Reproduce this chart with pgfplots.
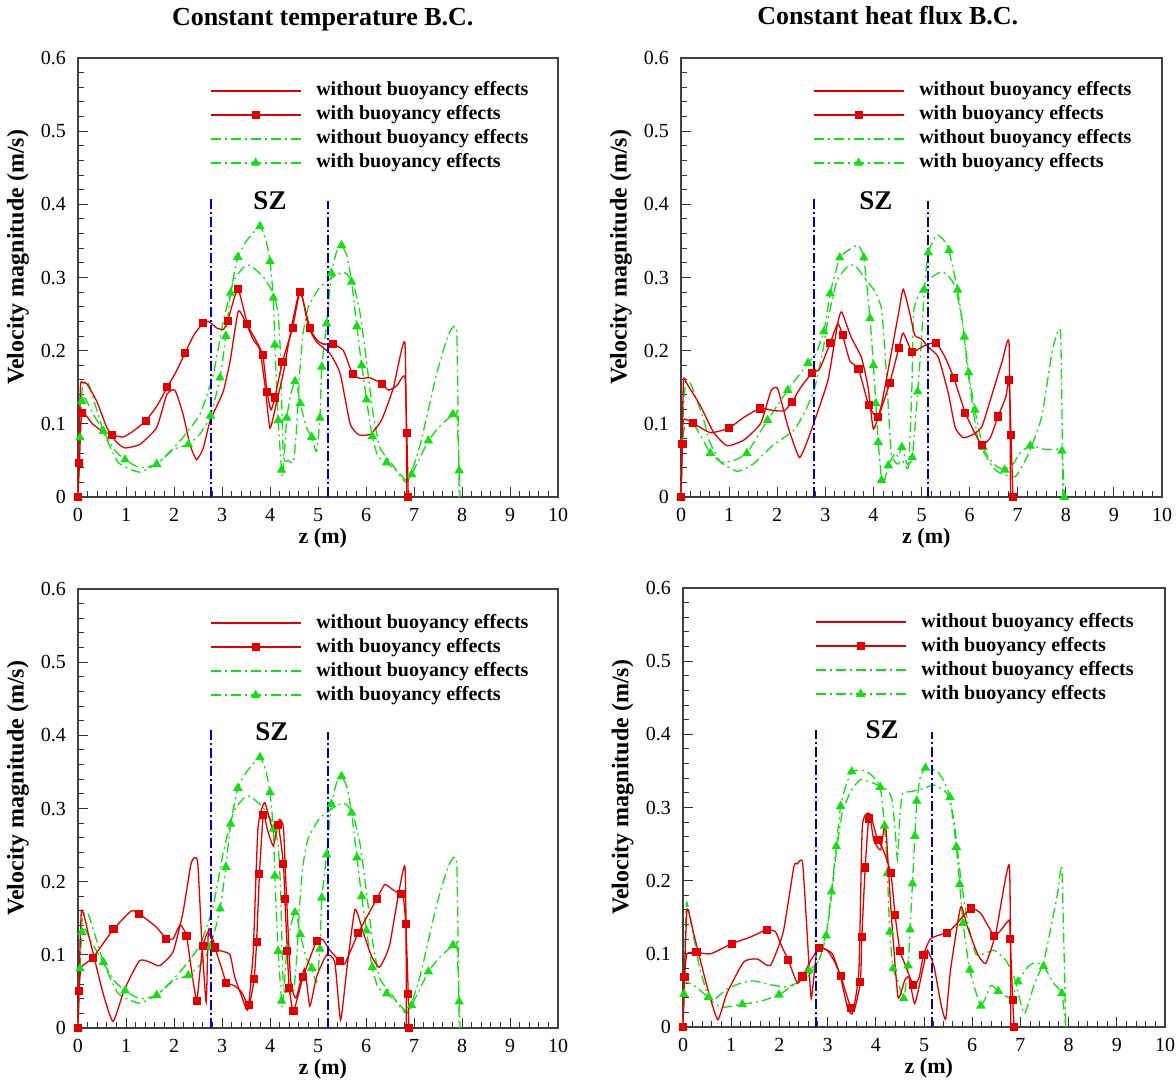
\documentclass[border=0pt]{standalone}
\usepackage{fontspec}
\setmainfont{Liberation Serif}
\usepackage{pgfplots}
\usepackage{pgfplotstable}
\pgfplotsset{compat=1.18}

\definecolor{myred}{RGB}{225,0,0}
\definecolor{mygreen}{RGB}{20,222,20}
\definecolor{myblue}{RGB}{0,0,185}

% ---------------- Panel A (constant temperature, top) ----------------
\pgfplotstableread[row sep=\\]{x y\\
0 0\\ 0.05 0.15\\ 0.1 0.156\\ 0.18 0.155\\ 0.39 0.131\\ 0.6 0.095\\ 0.8 0.075\\ 0.98 0.067\\ 1.29 0.072\\ 1.64 0.095\\ 1.85 0.140\\ 2.02 0.146\\ 2.19 0.113\\ 2.33 0.072\\ 2.47 0.051\\ 2.61 0.067\\ 2.75 0.104\\ 2.89 0.124\\ 3.03 0.145\\ 3.17 0.186\\ 3.34 0.254\\ 3.51 0.236\\ 3.65 0.215\\ 3.79 0.201\\ 3.90 0.15\\ 4.00 0.094\\ 4.14 0.13\\ 4.28 0.17\\ 4.45 0.233\\ 4.63 0.283\\ 4.80 0.233\\ 4.97 0.212\\ 5.25 0.196\\ 5.46 0.169\\ 5.67 0.100\\ 5.85 0.085\\ 6.10 0.086\\ 6.33 0.106\\ 6.57 0.149\\ 6.81 0.211\\ 6.85 0\\
}\ArZ
\pgfplotstableread[row sep=\\]{x y\\
0 0\\ 0.03 0.047\\ 0.08 0.115\\ 0.3 0.1\\ 0.5 0.09\\ 0.70 0.085\\ 0.94 0.082\\ 1.15 0.09\\ 1.41 0.104\\ 1.65 0.125\\ 1.86 0.150\\ 2.05 0.172\\ 2.23 0.197\\ 2.42 0.222\\ 2.61 0.238\\ 2.72 0.240\\ 2.89 0.231\\ 3.03 0.229\\ 3.12 0.241\\ 3.33 0.284\\ 3.53 0.236\\ 3.70 0.215\\ 3.85 0.194\\ 3.94 0.143\\ 4.02 0.119\\ 4.10 0.136\\ 4.26 0.185\\ 4.47 0.231\\ 4.63 0.280\\ 4.83 0.231\\ 4.97 0.215\\ 5.11 0.209\\ 5.32 0.209\\ 5.53 0.200\\ 5.72 0.168\\ 5.88 0.162\\ 6.08 0.163\\ 6.33 0.155\\ 6.47 0.146\\ 6.64 0.152\\ 6.81 0.165\\ 6.85 0.088\\ 6.88 0\\
}\ArO
\pgfplotstableread[row sep=\\]{x y\\
0 0\\ 0.03 0.047\\ 0.08 0.115\\ 0.70 0.085\\ 1.41 0.104\\ 1.86 0.150\\ 2.23 0.197\\ 2.61 0.238\\ 3.12 0.241\\ 3.33 0.284\\ 3.53 0.236\\ 3.85 0.194\\ 3.94 0.143\\ 4.10 0.136\\ 4.26 0.185\\ 4.47 0.231\\ 4.63 0.280\\ 4.83 0.231\\ 5.32 0.209\\ 5.72 0.168\\ 6.33 0.155\\ 6.85 0.088\\ 6.88 0\\
}\ArM
\pgfplotstableread[row sep=\\]{x y\\
0 0\\ 0.05 0.12\\ 0.11 0.155\\ 0.22 0.155\\ 0.53 0.090\\ 0.84 0.047\\ 1.29 0.034\\ 1.71 0.049\\ 2.13 0.077\\ 2.54 0.113\\ 2.82 0.168\\ 3.03 0.241\\ 3.24 0.295\\ 3.45 0.314\\ 3.58 0.317\\ 3.86 0.301\\ 4.07 0.278\\ 4.17 0.25\\ 4.22 0.19\\ 4.28 0.055\\ 4.38 0.05\\ 4.49 0.048\\ 4.56 0.1\\ 4.62 0.17\\ 4.69 0.224\\ 4.80 0.260\\ 5.04 0.287\\ 5.32 0.301\\ 5.50 0.307\\ 5.60 0.305\\ 5.74 0.290\\ 5.88 0.250\\ 6.02 0.18\\ 6.15 0.113\\ 6.29 0.067\\ 6.50 0.049\\ 6.85 0.020\\ 7.13 0.072\\ 7.47 0.168\\ 7.72 0.222\\ 7.89 0.225\\ 7.94 0\\
}\AgZ
\pgfplotstableread[row sep=\\]{x y\\
0 0\\ 0.04 0.081\\ 0.08 0.131\\ 0.15 0.135\\ 0.3 0.115\\ 0.53 0.090\\ 0.75 0.065\\ 0.98 0.051\\ 1.29 0.040\\ 1.64 0.045\\ 1.99 0.065\\ 2.30 0.072\\ 2.54 0.086\\ 2.76 0.111\\ 2.96 0.163\\ 3.08 0.220\\ 3.18 0.279\\ 3.33 0.328\\ 3.51 0.350\\ 3.79 0.370\\ 3.92 0.35\\ 4.00 0.322\\ 4.07 0.272\\ 4.10 0.208\\ 4.17 0.105\\ 4.24 0.037\\ 4.26 0.028\\ 4.30 0.06\\ 4.35 0.108\\ 4.43 0.140\\ 4.52 0.158\\ 4.57 0.15\\ 4.63 0.128\\ 4.76 0.095\\ 4.87 0.082\\ 4.97 0.062\\ 5.04 0.108\\ 5.08 0.178\\ 5.18 0.237\\ 5.28 0.306\\ 5.40 0.338\\ 5.49 0.344\\ 5.60 0.33\\ 5.70 0.294\\ 5.81 0.233\\ 5.91 0.180\\ 6.01 0.133\\ 6.13 0.083\\ 6.25 0.055\\ 6.43 0.047\\ 6.64 0.036\\ 6.85 0.022\\ 6.95 0.031\\ 7.09 0.049\\ 7.30 0.077\\ 7.54 0.097\\ 7.81 0.113\\ 7.89 0.118\\ 7.94 0.036\\ 7.96 0\\
}\AgO
\pgfplotstableread[row sep=\\]{x y\\
0 0\\ 0.04 0.081\\ 0.08 0.131\\ 0.53 0.090\\ 0.98 0.051\\ 1.64 0.045\\ 2.30 0.072\\ 2.76 0.111\\ 2.96 0.163\\ 3.08 0.220\\ 3.18 0.279\\ 3.33 0.328\\ 3.79 0.370\\ 4.00 0.322\\ 4.07 0.272\\ 4.10 0.208\\ 4.17 0.105\\ 4.24 0.037\\ 4.35 0.108\\ 4.52 0.158\\ 4.63 0.128\\ 4.87 0.082\\ 5.04 0.108\\ 5.08 0.178\\ 5.18 0.237\\ 5.28 0.306\\ 5.49 0.344\\ 5.70 0.294\\ 5.81 0.233\\ 5.91 0.180\\ 6.01 0.133\\ 6.13 0.083\\ 6.43 0.047\\ 6.95 0.031\\ 7.30 0.077\\ 7.81 0.113\\ 7.94 0.036\\
}\AgM

% ---------------- Panel B (constant heat flux, top) ----------------
\pgfplotstableread[row sep=\\]{x y\\
0 0\\ 0.05 0.157\\ 0.12 0.155\\ 0.40 0.125\\ 0.68 0.088\\ 0.96 0.070\\ 1.31 0.078\\ 1.66 0.101\\ 1.87 0.145\\ 2.01 0.148\\ 2.22 0.097\\ 2.46 0.054\\ 2.64 0.079\\ 2.85 0.118\\ 3.06 0.161\\ 3.26 0.238\\ 3.34 0.253\\ 3.54 0.218\\ 3.75 0.191\\ 3.89 0.150\\ 4.00 0.093\\ 4.17 0.127\\ 4.38 0.200\\ 4.52 0.250\\ 4.62 0.284\\ 4.76 0.250\\ 4.86 0.221\\ 5.00 0.216\\ 5.14 0.205\\ 5.35 0.191\\ 5.56 0.141\\ 5.70 0.095\\ 5.87 0.081\\ 6.09 0.086\\ 6.26 0.097\\ 6.47 0.141\\ 6.68 0.186\\ 6.82 0.211\\ 6.85 0\\
}\BrZ
\pgfplotstableread[row sep=\\]{x y\\
0 0\\ 0.03 0.072\\ 0.05 0.106\\ 0.25 0.101\\ 0.61 0.088\\ 0.99 0.094\\ 1.31 0.109\\ 1.64 0.121\\ 1.94 0.118\\ 2.15 0.118\\ 2.31 0.130\\ 2.49 0.150\\ 2.72 0.169\\ 2.88 0.175\\ 3.10 0.210\\ 3.26 0.237\\ 3.36 0.221\\ 3.51 0.186\\ 3.69 0.175\\ 3.90 0.126\\ 4.09 0.109\\ 4.34 0.156\\ 4.53 0.204\\ 4.62 0.224\\ 4.80 0.198\\ 4.93 0.202\\ 5.07 0.207\\ 5.30 0.211\\ 5.49 0.191\\ 5.67 0.163\\ 5.91 0.115\\ 6.12 0.086\\ 6.26 0.071\\ 6.43 0.081\\ 6.59 0.110\\ 6.75 0.136\\ 6.82 0.160\\ 6.86 0.085\\ 6.90 0\\
}\BrO
\pgfplotstableread[row sep=\\]{x y\\
0 0\\ 0.03 0.072\\ 0.25 0.101\\ 0.99 0.094\\ 1.64 0.121\\ 2.31 0.130\\ 2.72 0.169\\ 3.10 0.210\\ 3.36 0.221\\ 3.69 0.175\\ 3.90 0.126\\ 4.09 0.109\\ 4.34 0.156\\ 4.53 0.204\\ 4.80 0.198\\ 5.30 0.211\\ 5.67 0.163\\ 5.91 0.115\\ 6.26 0.071\\ 6.59 0.110\\ 6.82 0.160\\ 6.86 0.085\\ 6.90 0\\
}\BrM
\pgfplotstableread[row sep=\\]{x y\\
0 0\\ 0.05 0.12\\ 0.1 0.157\\ 0.2 0.155\\ 0.45 0.11\\ 0.6 0.075\\ 0.82 0.048\\ 1.17 0.035\\ 1.5 0.045\\ 1.9 0.07\\ 2.36 0.092\\ 2.6 0.12\\ 2.77 0.147\\ 2.95 0.2\\ 3.05 0.241\\ 3.24 0.295\\ 3.45 0.314\\ 3.61 0.317\\ 3.82 0.299\\ 4.03 0.281\\ 4.17 0.256\\ 4.27 0.169\\ 4.37 0.060\\ 4.50 0.045\\ 4.60 0.05\\ 4.73 0.041\\ 4.80 0.150\\ 4.84 0.255\\ 5.01 0.285\\ 5.20 0.300\\ 5.42 0.308\\ 5.56 0.302\\ 5.70 0.287\\ 5.85 0.24\\ 5.97 0.169\\ 6.18 0.078\\ 6.53 0.037\\ 6.95 0.028\\ 7.23 0.060\\ 7.50 0.110\\ 7.72 0.20\\ 7.89 0.225\\ 7.94 0\\
}\BgZ
\pgfplotstableread[row sep=\\]{x y\\
0 0\\ 0.02 0.073\\ 0.08 0.095\\ 0.25 0.100\\ 0.4 0.085\\ 0.61 0.060\\ 0.85 0.047\\ 1.1 0.05\\ 1.37 0.060\\ 1.80 0.105\\ 2.22 0.146\\ 2.64 0.183\\ 2.80 0.195\\ 2.97 0.226\\ 3.10 0.278\\ 3.30 0.327\\ 3.50 0.338\\ 3.68 0.344\\ 3.80 0.327\\ 3.93 0.244\\ 4.00 0.180\\ 4.05 0.128\\ 4.10 0.075\\ 4.17 0.023\\ 4.22 0.02\\ 4.31 0.043\\ 4.45 0.06\\ 4.52 0.055\\ 4.59 0.068\\ 4.70 0.045\\ 4.81 0.054\\ 4.92 0.144\\ 4.99 0.205\\ 5.06 0.283\\ 5.14 0.334\\ 5.31 0.358\\ 5.45 0.352\\ 5.57 0.337\\ 5.75 0.283\\ 5.89 0.219\\ 5.98 0.170\\ 6.11 0.119\\ 6.28 0.068\\ 6.50 0.045\\ 6.73 0.037\\ 6.90 0.045\\ 7.05 0.06\\ 7.26 0.070\\ 7.58 0.065\\ 7.80 0.065\\ 7.92 0.063\\ 7.97 0\\
}\BgO
\pgfplotstableread[row sep=\\]{x y\\
0 0\\ 0.02 0.073\\ 0.25 0.100\\ 0.61 0.060\\ 1.37 0.060\\ 1.80 0.105\\ 2.22 0.146\\ 2.64 0.183\\ 2.97 0.226\\ 3.10 0.278\\ 3.30 0.327\\ 3.80 0.327\\ 3.93 0.244\\ 4.00 0.180\\ 4.05 0.128\\ 4.10 0.075\\ 4.17 0.023\\ 4.31 0.043\\ 4.59 0.068\\ 4.81 0.054\\ 4.92 0.144\\ 5.06 0.283\\ 5.14 0.334\\ 5.57 0.337\\ 5.75 0.283\\ 5.89 0.219\\ 5.98 0.170\\ 6.11 0.119\\ 6.28 0.068\\ 6.73 0.037\\ 7.26 0.070\\ 7.92 0.063\\ 7.97 0\\
}\BgM

% ---------------- Panel C (constant temperature, bottom) ----------------
\pgfplotstableread[row sep=\\]{x y\\
0 0\\ 0.07 0.159\\ 0.24 0.122\\ 0.52 0.048\\ 0.73 0.009\\ 0.97 0.053\\ 1.28 0.092\\ 1.50 0.090\\ 1.70 0.085\\ 1.98 0.104\\ 2.19 0.159\\ 2.36 0.226\\ 2.49 0.229\\ 2.57 0.131\\ 2.67 0.035\\ 2.72 0.135\\ 2.88 0.108\\ 3.16 0.101\\ 3.26 0.071\\ 3.40 0.045\\ 3.54 0.025\\ 3.65 0.104\\ 3.75 0.274\\ 3.89 0.308\\ 4.07 0.268\\ 4.20 0.285\\ 4.28 0.274\\ 4.33 0.2\\ 4.43 0.066\\ 4.54 0.041\\ 4.72 0.081\\ 4.83 0.030\\ 4.97 0.07\\ 5.18 0.100\\ 5.35 0.09\\ 5.47 0.011\\ 5.60 0.08\\ 5.77 0.162\\ 5.94 0.131\\ 6.11 0.099\\ 6.28 0.083\\ 6.49 0.113\\ 6.81 0.221\\ 6.84 0\\
}\CrZ
\pgfplotstableread[row sep=\\]{x y\\
0 0\\ 0.02 0.051\\ 0.07 0.083\\ 0.31 0.096\\ 0.74 0.135\\ 1.11 0.160\\ 1.28 0.156\\ 1.63 0.138\\ 1.84 0.122\\ 1.98 0.122\\ 2.13 0.141\\ 2.26 0.126\\ 2.36 0.081\\ 2.47 0.037\\ 2.53 0.07\\ 2.60 0.112\\ 2.71 0.131\\ 2.85 0.110\\ 3.00 0.08\\ 3.09 0.062\\ 3.25 0.058\\ 3.40 0.05\\ 3.56 0.031\\ 3.67 0.067\\ 3.72 0.117\\ 3.78 0.210\\ 3.86 0.291\\ 3.95 0.27\\ 4.07 0.249\\ 4.17 0.278\\ 4.28 0.224\\ 4.31 0.176\\ 4.36 0.105\\ 4.40 0.055\\ 4.49 0.023\\ 4.69 0.070\\ 4.97 0.119\\ 5.10 0.121\\ 5.24 0.107\\ 5.46 0.091\\ 5.56 0.088\\ 5.84 0.130\\ 6.22 0.176\\ 6.39 0.196\\ 6.56 0.189\\ 6.72 0.183\\ 6.77 0.183\\ 6.83 0.142\\ 6.88 0.047\\ 6.89 0\\
}\CrO
\pgfplotstableread[row sep=\\]{x y\\
0 0\\ 0.02 0.051\\ 0.31 0.096\\ 0.74 0.135\\ 1.28 0.156\\ 1.84 0.122\\ 2.26 0.126\\ 2.47 0.037\\ 2.60 0.112\\ 2.85 0.110\\ 3.09 0.062\\ 3.56 0.031\\ 3.67 0.067\\ 3.72 0.117\\ 3.78 0.210\\ 3.86 0.291\\ 4.17 0.278\\ 4.28 0.224\\ 4.31 0.176\\ 4.36 0.105\\ 4.40 0.055\\ 4.49 0.023\\ 4.69 0.070\\ 4.97 0.119\\ 5.46 0.091\\ 5.84 0.130\\ 6.22 0.176\\ 6.72 0.183\\ 6.83 0.142\\ 6.88 0.047\\ 6.89 0\\
}\CrM

% ---------------- Panel D (constant heat flux, bottom) ----------------
\pgfplotstableread[row sep=\\]{x y\\
0 0\\ 0.08 0.159\\ 0.22 0.128\\ 0.50 0.055\\ 0.72 0.010\\ 0.91 0.046\\ 1.26 0.089\\ 1.54 0.093\\ 1.81 0.084\\ 2.08 0.130\\ 2.30 0.219\\ 2.37 0.223\\ 2.48 0.225\\ 2.58 0.123\\ 2.66 0.039\\ 2.78 0.107\\ 2.92 0.107\\ 3.10 0.100\\ 3.27 0.068\\ 3.41 0.027\\ 3.52 0.019\\ 3.65 0.078\\ 3.72 0.274\\ 3.86 0.292\\ 3.96 0.255\\ 4.10 0.242\\ 4.20 0.278\\ 4.31 0.164\\ 4.46 0.041\\ 4.60 0.064\\ 4.69 0.068\\ 4.81 0.032\\ 5.00 0.087\\ 5.07 0.105\\ 5.21 0.082\\ 5.35 0.032\\ 5.45 0.011\\ 5.55 0.078\\ 5.76 0.164\\ 5.90 0.137\\ 6.11 0.100\\ 6.28 0.087\\ 6.49 0.128\\ 6.77 0.221\\ 6.80 0\\
}\DrZ
\pgfplotstableread[row sep=\\]{x y\\
0 0\\ 0.03 0.068\\ 0.08 0.100\\ 0.28 0.102\\ 0.57 0.100\\ 1.02 0.114\\ 1.40 0.123\\ 1.74 0.133\\ 1.92 0.130\\ 2.05 0.11\\ 2.18 0.092\\ 2.37 0.060\\ 2.48 0.069\\ 2.65 0.091\\ 2.83 0.108\\ 2.99 0.105\\ 3.13 0.091\\ 3.27 0.070\\ 3.48 0.026\\ 3.55 0.022\\ 3.68 0.061\\ 3.71 0.123\\ 3.78 0.218\\ 3.85 0.285\\ 3.89 0.290\\ 4.04 0.255\\ 4.13 0.246\\ 4.31 0.211\\ 4.40 0.153\\ 4.50 0.104\\ 4.58 0.09\\ 4.78 0.057\\ 4.90 0.068\\ 4.99 0.099\\ 5.14 0.121\\ 5.47 0.129\\ 5.62 0.137\\ 5.97 0.162\\ 6.18 0.155\\ 6.45 0.125\\ 6.59 0.132\\ 6.77 0.146\\ 6.79 0.120\\ 6.84 0.037\\ 6.87 0\\
}\DrO
\pgfplotstableread[row sep=\\]{x y\\
0 0\\ 0.03 0.068\\ 0.28 0.102\\ 1.02 0.114\\ 1.74 0.133\\ 2.18 0.092\\ 2.48 0.069\\ 2.83 0.108\\ 3.27 0.070\\ 3.48 0.026\\ 3.68 0.061\\ 3.71 0.123\\ 3.78 0.218\\ 3.85 0.285\\ 4.04 0.255\\ 4.31 0.211\\ 4.40 0.153\\ 4.50 0.104\\ 4.78 0.057\\ 4.99 0.099\\ 5.47 0.129\\ 5.97 0.162\\ 6.45 0.125\\ 6.79 0.120\\ 6.84 0.037\\ 6.87 0\\
}\DrM
\pgfplotstableread[row sep=\\]{x y\\
0 0\\ 0.03 0.059\\ 0.22 0.057\\ 0.45 0.045\\ 0.65 0.038\\ 0.91 0.052\\ 1.20 0.06\\ 1.47 0.063\\ 1.80 0.058\\ 2.16 0.055\\ 2.58 0.068\\ 2.85 0.096\\ 3.03 0.151\\ 3.16 0.228\\ 3.30 0.292\\ 3.48 0.322\\ 3.68 0.338\\ 3.96 0.333\\ 4.24 0.324\\ 4.34 0.310\\ 4.40 0.27\\ 4.45 0.228\\ 4.50 0.29\\ 4.56 0.319\\ 4.75 0.322\\ 5.00 0.326\\ 5.20 0.331\\ 5.48 0.319\\ 5.62 0.283\\ 5.76 0.205\\ 5.90 0.146\\ 6.07 0.100\\ 6.25 0.100\\ 6.45 0.105\\ 6.70 0.091\\ 6.87 0.068\\ 7.08 0.018\\ 7.29 0.059\\ 7.49 0.091\\ 7.77 0.182\\ 7.86 0.217\\ 7.94 0\\
}\DgZ
\pgfplotstableread[row sep=\\]{x y\\
0 0\\ 0.02 0.045\\ 0.07 0.170\\ 0.2 0.13\\ 0.35 0.08\\ 0.53 0.041\\ 0.70 0.030\\ 0.85 0.027\\ 1.23 0.031\\ 1.60 0.035\\ 1.99 0.044\\ 2.30 0.058\\ 2.61 0.077\\ 2.82 0.091\\ 2.97 0.125\\ 3.08 0.185\\ 3.18 0.247\\ 3.27 0.302\\ 3.38 0.33\\ 3.50 0.349\\ 3.72 0.351\\ 3.90 0.345\\ 4.09 0.328\\ 4.18 0.275\\ 4.24 0.210\\ 4.29 0.130\\ 4.36 0.080\\ 4.47 0.06\\ 4.58 0.039\\ 4.67 0.084\\ 4.71 0.133\\ 4.76 0.196\\ 4.81 0.261\\ 4.85 0.309\\ 4.92 0.34\\ 5.03 0.354\\ 5.28 0.349\\ 5.42 0.335\\ 5.54 0.314\\ 5.67 0.246\\ 5.74 0.195\\ 5.81 0.142\\ 5.95 0.078\\ 6.18 0.029\\ 6.39 0.057\\ 6.54 0.049\\ 6.73 0.041\\ 6.83 0.040\\ 6.95 0.062\\ 7.15 0.082\\ 7.30 0.088\\ 7.48 0.083\\ 7.70 0.059\\ 7.86 0.046\\ 7.94 0\\
}\DgO
\pgfplotstableread[row sep=\\]{x y\\
0 0\\ 0.02 0.045\\ 0.53 0.041\\ 1.23 0.031\\ 1.99 0.044\\ 2.61 0.077\\ 2.97 0.125\\ 3.08 0.185\\ 3.18 0.247\\ 3.27 0.302\\ 3.50 0.349\\ 4.09 0.328\\ 4.18 0.275\\ 4.24 0.210\\ 4.29 0.130\\ 4.36 0.080\\ 4.58 0.039\\ 4.67 0.084\\ 4.71 0.133\\ 4.76 0.196\\ 4.81 0.261\\ 4.85 0.309\\ 5.03 0.354\\ 5.54 0.314\\ 5.67 0.246\\ 5.74 0.195\\ 5.81 0.142\\ 5.95 0.078\\ 6.18 0.029\\ 6.54 0.049\\ 6.95 0.062\\ 7.48 0.083\\ 7.86 0.046\\
}\DgM

\pgfplotsset{
  rline/.style={myred, line width=0.65pt, solid},
  rsq/.style={myred, line width=0.65pt, solid, mark=square*, mark size=1.7pt, mark options={solid}},
  gline/.style={mygreen, line width=0.65pt, dash pattern=on 5pt off 2pt on 1pt off 2pt},
  gtri/.style={mygreen, line width=0.65pt, dash pattern=on 5pt off 2pt on 1pt off 2pt, mark=triangle*, mark size=2.1pt, mark options={solid}},
  szline/.style={myblue, line width=1.2pt, dash pattern=on 5pt off 1.5pt on 1pt off 1.5pt},
  panel/.style={
    scale only axis, height=219.5pt,
    xmin=0, xmax=10, ymin=0, ymax=0.6,
    xtick={0,1,2,3,4,5,6,7,8,9,10},
    ytick={0,0.1,0.2,0.3,0.4,0.5,0.6},
    minor x tick num=4, minor y tick num=4,
    tick align=inside, xtick pos=left, ytick pos=left,
    major tick length=5pt, minor tick length=3pt,
    every tick/.style={black!80, line width=0.5pt},
    axis line style={black!75, line width=0.6pt},
    clip=false,
    scaled y ticks=false,
    /pgf/number format/assume math mode=true,
    xticklabel style={font=\fontsize{10}{12}\selectfont, yshift=-2pt},
    yticklabel style={font=\fontsize{10}{12}\selectfont, xshift=-2.5pt, /pgf/number format/fixed, /pgf/number format/precision=1},
    xlabel={z (m)}, ylabel={Velocity magnitude (m/s)},
    every axis x label/.style={at={(axis description cs:0.51,-0.093)}, anchor=center, font=\bfseries\fontsize{11}{13}\selectfont},
    every axis y label/.style={at={(axis description cs:-0.125,0.546)}, anchor=center, rotate=90, font=\bfseries\fontsize{12}{14}\selectfont},
    every axis title/.style={anchor=center, font=\bfseries\fontsize{13}{15}\selectfont},
    legend cell align=left,
    legend image code/.code={\draw[mark repeat=2,mark phase=2,#1] plot coordinates {(0pt,0pt) (22.5pt,0pt) (45pt,0pt)};},
    legend style={draw=none, fill=none, inner sep=0pt, outer sep=0pt, column sep=7.5pt, row sep=0pt,
      nodes={inner sep=0pt, text height=8.5pt, text depth=3.5pt, font=\bfseries\fontsize{10}{12}\selectfont}, anchor=north west},
  },
}

\newcommand{\legendset}{%
  \addlegendimage{rline}\addlegendentry{without buoyancy effects}
  \addlegendimage{rsq}\addlegendentry{with buoyancy effects}
  \addlegendimage{gline}\addlegendentry{without buoyancy effects}
  \addlegendimage{gtri}\addlegendentry{with buoyancy effects}
}

\begin{document}
\begin{tikzpicture}
\path[use as bounding box] (0,0) rectangle (588pt,541.5pt);

% ---------- A ----------
\begin{axis}[panel, width=240pt, at={(39pt,293pt)}, anchor=south west,
  title={Constant temperature B.C.}, title style={at={(axis description cs:0.51,1.0866)}},
  legend style={at={(axis cs:2.75,0.5713)}}]
\legendset
\addplot[gline, smooth, tension=0.3, forget plot] table {\AgZ};
\addplot[gline, smooth, tension=0.3, forget plot] table {\AgO};
\addplot[gtri, only marks, forget plot] table {\AgM};
\addplot[rline, smooth, tension=0.3, forget plot] table {\ArZ};
\addplot[rline, smooth, tension=0.3, forget plot] table {\ArO};
\addplot[rsq, only marks, forget plot] table {\ArM};
\addplot[szline, forget plot] coordinates {(2.77,0) (2.77,0.41)};
\addplot[szline, forget plot] coordinates {(5.21,0) (5.21,0.405)};
\node[font=\bfseries\fontsize{13.5}{15}\selectfont] at (axis cs:4.0,0.405) {SZ};
\end{axis}

% ---------- B ----------
\begin{axis}[panel, width=240.5pt, at={(340.5pt,293pt)}, anchor=south west,
  title={Constant heat flux B.C.}, title style={at={(axis description cs:0.43,1.0957)}},
  legend style={at={(axis cs:2.744,0.5713)}}]
\legendset
\addplot[gline, smooth, tension=0.3, forget plot] table {\BgZ};
\addplot[gline, smooth, tension=0.3, forget plot] table {\BgO};
\addplot[gtri, only marks, forget plot] table {\BgM};
\addplot[rline, smooth, tension=0.3, forget plot] table {\BrZ};
\addplot[rline, smooth, tension=0.3, forget plot] table {\BrO};
\addplot[rsq, only marks, forget plot] table {\BrM};
\addplot[szline, forget plot] coordinates {(2.77,0) (2.77,0.41)};
\addplot[szline, forget plot] coordinates {(5.14,0) (5.14,0.405)};
\node[font=\bfseries\fontsize{13.5}{15}\selectfont] at (axis cs:4.05,0.405) {SZ};
\end{axis}

% ---------- C ----------
\begin{axis}[panel, width=240pt, at={(39pt,27.5pt)}, anchor=south west,
  legend style={at={(axis cs:2.75,0.5698)}}]
\legendset
\addplot[gline, smooth, tension=0.3, forget plot] table {\AgZ};
\addplot[gline, smooth, tension=0.3, forget plot] table {\AgO};
\addplot[gtri, only marks, forget plot] table {\AgM};
\addplot[rline, smooth, tension=0.3, forget plot] table {\CrZ};
\addplot[rline, smooth, tension=0.3, forget plot] table {\CrO};
\addplot[rsq, only marks, forget plot] table {\CrM};
\addplot[szline, forget plot] coordinates {(2.77,0) (2.77,0.411)};
\addplot[szline, forget plot] coordinates {(5.21,0) (5.21,0.405)};
\node[font=\bfseries\fontsize{13.5}{15}\selectfont] at (axis cs:4.04,0.405) {SZ};
\end{axis}

% ---------- D ----------
\begin{axis}[panel, width=241pt, at={(341.5pt,28pt)}, anchor=south west,
  legend style={at={(axis cs:2.74,0.5699)}}]
\legendset
\addplot[gline, smooth, tension=0.3, forget plot] table {\DgZ};
\addplot[gline, smooth, tension=0.3, forget plot] table {\DgO};
\addplot[gtri, only marks, forget plot] table {\DgM};
\addplot[rline, smooth, tension=0.3, forget plot] table {\DrZ};
\addplot[rline, smooth, tension=0.3, forget plot] table {\DrO};
\addplot[rsq, only marks, forget plot] table {\DrM};
\addplot[szline, forget plot] coordinates {(2.76,0) (2.76,0.406)};
\addplot[szline, forget plot] coordinates {(5.17,0) (5.17,0.403)};
\node[font=\bfseries\fontsize{13.5}{15}\selectfont] at (axis cs:4.13,0.406) {SZ};
\end{axis}
\end{tikzpicture}
\end{document}
